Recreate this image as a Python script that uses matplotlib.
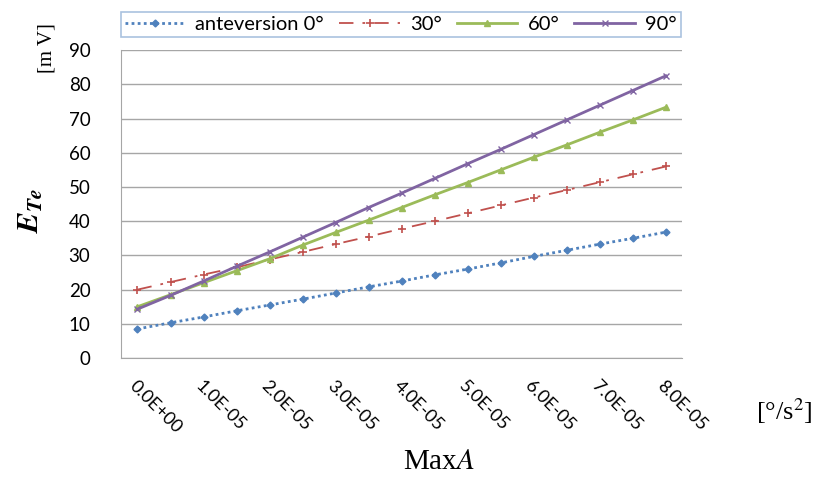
import numpy as np
import matplotlib.pyplot as plt

# MaxA categories (deg/s^2), every 0.5E-05 step
max_a = [0.0, 0.5e-5, 1.0e-5, 1.5e-5, 2.0e-5, 2.5e-5, 3.0e-5, 3.5e-5, 4.0e-5,
         4.5e-5, 5.0e-5, 5.5e-5, 6.0e-5, 6.5e-5, 7.0e-5, 7.5e-5, 8.0e-5]

e_te_0 = [8.5, 10.3, 12.0, 13.8, 15.5, 17.2, 19.0, 20.8, 22.5,
          24.3, 26.0, 27.8, 29.7, 31.5, 33.3, 35.0, 36.8]
e_te_30 = [20.0, 22.2, 24.4, 26.5, 28.8, 31.0, 33.3, 35.5, 37.8,
           40.0, 42.3, 44.6, 46.9, 49.1, 51.4, 53.7, 56.0]
e_te_60 = [15.0, 18.5, 22.0, 25.5, 29.0, 33.0, 36.7, 40.3, 44.0,
           47.7, 51.3, 55.0, 58.7, 62.3, 66.0, 69.6, 73.3]
e_te_90 = [14.3, 18.3, 22.5, 26.8, 31.0, 35.3, 39.6, 44.0, 48.2,
           52.5, 56.8, 61.0, 65.3, 69.6, 73.9, 78.2, 82.5]

series_names = ['anteversion 0°', '30°', '60°', '90°']
y_ticks = [0, 10, 20, 30, 40, 50, 60, 70, 80, 90]

plt.rcParams['font.family'] = ['Lato', 'DejaVu Sans']
plt.rcParams['mathtext.fontset'] = 'stix'

fig = plt.figure(figsize=(8.23, 4.78), dpi=100)
ax = fig.add_axes([0.147, 0.251, 0.682, 0.644])

x = np.arange(len(max_a))
l0, = ax.plot(x, e_te_0, color='#4F81BD', lw=2, ls=(0, (1, 1.2)),
              marker='D', ms=3.5, label=series_names[0])
l30, = ax.plot(x, e_te_30, color='#C0504D', lw=1.3, ls=(0, (8, 5, 1.5, 5)),
               marker='+', ms=6, mew=1.2, label=series_names[1])
l60, = ax.plot(x, e_te_60, color='#9BBB59', lw=2, marker='^', ms=5,
               label=series_names[2])
l90, = ax.plot(x, e_te_90, color='#8064A2', lw=2, marker='x', ms=5,
               mew=1, label=series_names[3])

ax.set_xlim(-0.5, len(max_a) - 0.5)
ax.set_ylim(0, 90)
ax.set_yticks(y_ticks)
ax.tick_params(axis='y', length=0, pad=22, labelsize=13.5)
ax.yaxis.grid(True, color='#A6A6A6', lw=1)
ax.set_axisbelow(True)

ax.set_xticks(x[::2])
ax.set_xticklabels(['%.1E' % v for v in max_a[::2]], rotation=-45,
                   ha='left', va='top', rotation_mode='anchor', fontsize=13)
ax.tick_params(axis='x', length=0, pad=14)

for side in ['top', 'right']:
    ax.spines[side].set_visible(False)
for side in ['left', 'bottom']:
    ax.spines[side].set_color('#A6A6A6')

# legend in a box above the plot
leg = fig.legend(handles=[l0, l30, l60, l90], loc='center',
                 bbox_to_anchor=(0.147, 0.918, 0.680, 0.062), mode='expand',
                 ncol=4, fontsize=14.5, frameon=True, fancybox=False,
                 handlelength=3.0, handletextpad=0.5, borderaxespad=0,
                 borderpad=0.2)
leg.get_frame().set_edgecolor('#95B3D7')
leg.get_frame().set_linewidth(1.2)

fig.text(0.038, 0.56, r'$\boldsymbol{E}_{\boldsymbol{Te}}$', fontsize=22,
         rotation=90, ha='center', va='center')
fig.text(0.057, 0.90, '[m V]', fontsize=15, rotation=90, ha='center',
         va='center', family='Liberation Serif')
fig.text(0.533, 0.033, 'Max$A$', fontsize=21, ha='center', va='center',
         family='Liberation Serif')
fig.text(0.953, 0.14, r'[°/s$^2$]', fontsize=19, ha='center', va='center',
         family='Liberation Serif')

fig.savefig('out.png', dpi=100)
